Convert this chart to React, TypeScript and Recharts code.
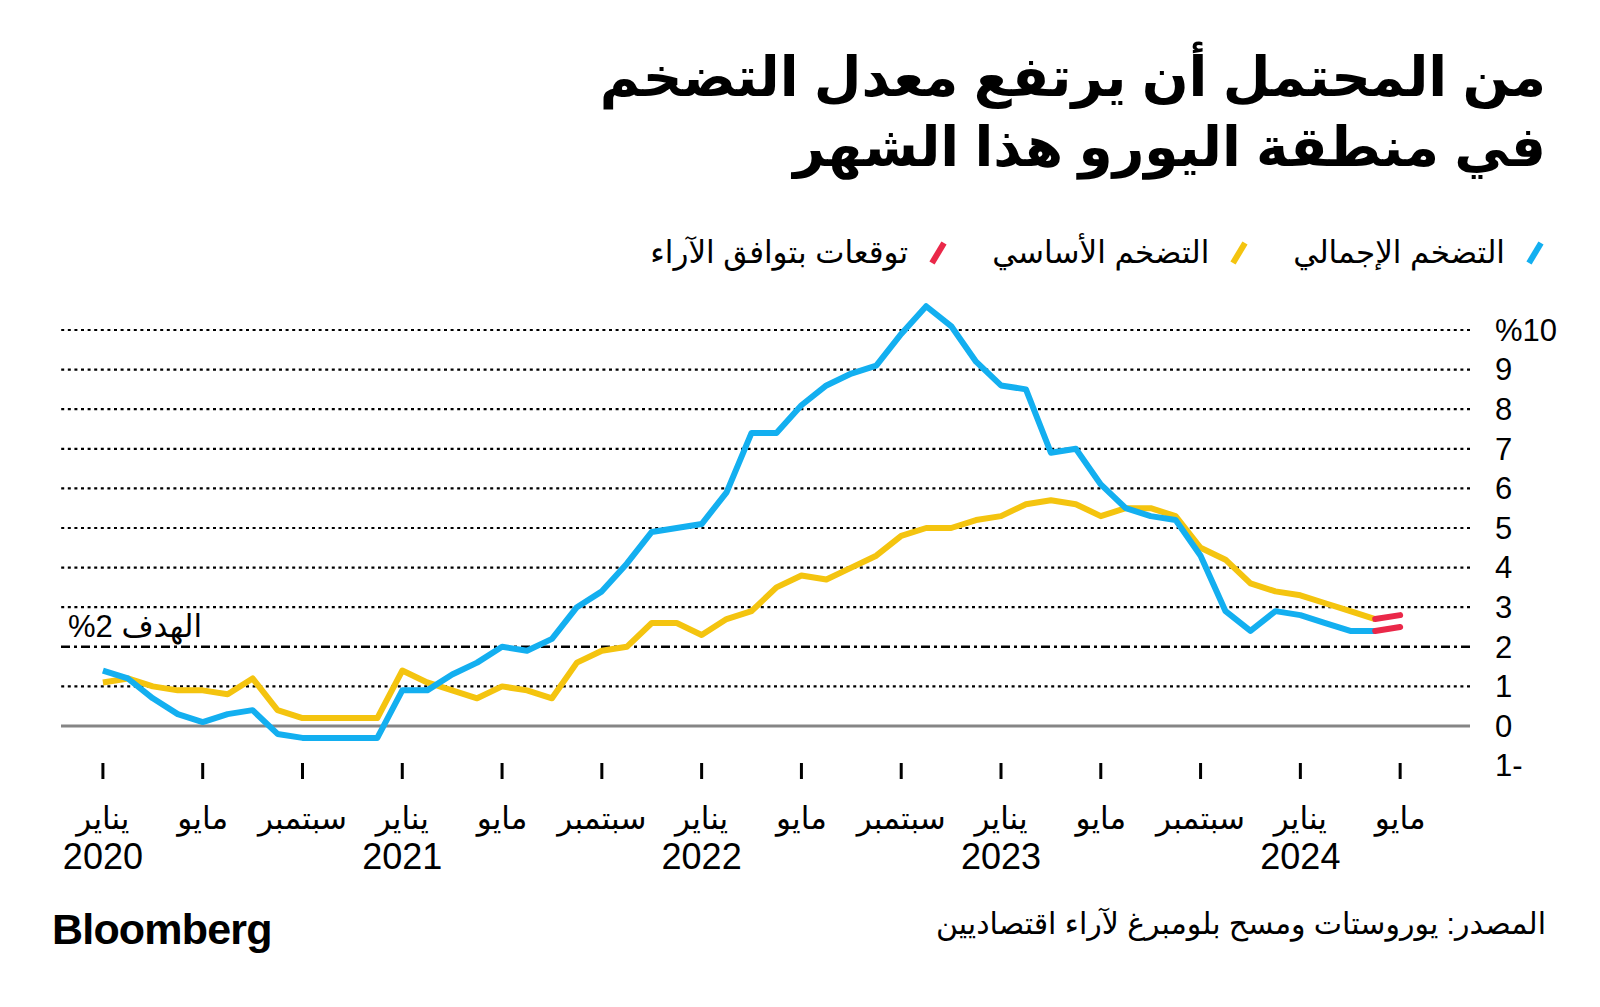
import React from 'react';
import { LineChart, Line, XAxis, YAxis, ReferenceLine } from 'recharts';

// months indexed from Jan 2020 (0) to May 2024 (52)
const headline = [
  1.4, 1.2, 0.7, 0.3, 0.1, 0.3, 0.4, -0.2, -0.3, -0.3, -0.3, -0.3,
  0.9, 0.9, 1.3, 1.6, 2.0, 1.9, 2.2, 3.0, 3.4, 4.1, 4.9, 5.0,
  5.1, 5.9, 7.4, 7.4, 8.1, 8.6, 8.9, 9.1, 9.9, 10.6, 10.1, 9.2,
  8.6, 8.5, 6.9, 7.0, 6.1, 5.5, 5.3, 5.2, 4.3, 2.9, 2.4, 2.9,
  2.8, 2.6, 2.4, 2.4,
];
const core = [
  1.1, 1.2, 1.0, 0.9, 0.9, 0.8, 1.2, 0.4, 0.2, 0.2, 0.2, 0.2,
  1.4, 1.1, 0.9, 0.7, 1.0, 0.9, 0.7, 1.6, 1.9, 2.0, 2.6, 2.6,
  2.3, 2.7, 2.9, 3.5, 3.8, 3.7, 4.0, 4.3, 4.8, 5.0, 5.0, 5.2,
  5.3, 5.6, 5.7, 5.6, 5.3, 5.5, 5.5, 5.3, 4.5, 4.2, 3.6, 3.4,
  3.3, 3.1, 2.9, 2.7,
];
// consensus forecasts for May 2024
const headlineConsensus = 2.5;
const coreConsensus = 2.8;

const monthNames = ['يناير', 'مايو', 'سبتمبر'];
const years = ['2020', '2021', '2022', '2023', '2024'];
const xTicks = [0, 4, 8, 12, 16, 20, 24, 28, 32, 36, 40, 44, 48, 52];
const yTicks = [-1, 0, 1, 2, 3, 4, 5, 6, 7, 8, 9, 10];
const target = 2;

const BLUE = '#13aff0';
const YELLOW = '#f4c40f';
const RED = '#ea2849';
const FONT = "'Liberation Sans', 'DejaVu Sans', sans-serif";

const last = headline.length - 1;
const data = Array.from({ length: headline.length + 1 }, (_, i) => ({
  i,
  headline: i <= last ? headline[i] : null,
  core: i <= last ? core[i] : null,
  headlineF: i === last ? headline[last] : i === last + 1 ? headlineConsensus : null,
  coreF: i === last ? core[last] : i === last + 1 ? coreConsensus : null,
}));

const XTick = (props: any) => {
  const { x, payload } = props;
  const idx = payload.value / 4;
  const name = monthNames[idx % 3];
  const year = idx % 3 === 0 ? years[idx / 3] : null;
  return (
    <g>
      <line x1={x} x2={x} y1={763} y2={779} stroke="#000" strokeWidth={3} />
      <text x={x} y={818} dy="0.35em" textAnchor="middle" fontSize={31} fill="#000" fontFamily={FONT}>
        {name}
      </text>
      {year && (
        <text x={x} y={856} dy="0.35em" textAnchor="middle" fontSize={36} fill="#000" fontFamily={FONT}>
          {year}
        </text>
      )}
    </g>
  );
};

const YTick = (props: any) => {
  const { y, payload } = props;
  const v = payload.value;
  const label = v === 10 ? '%10' : v < 0 ? `${-v}-` : String(v);
  return (
    <text x={1495} y={y} dy="0.35em" textAnchor="start" fontSize={31} fill="#000" fontFamily={FONT}>
      {label}
    </text>
  );
};

const TargetLabel = (props: any) => {
  const { viewBox } = props;
  return (
    <text x={viewBox.x + 7} y={viewBox.y - 21} dy="0.35em" textAnchor="start" fontSize={31} fill="#000" fontFamily={FONT}>
      %2 الهدف
    </text>
  );
};

const Marker = ({ color }: { color: string }) => (
  <svg width={20} height={26} style={{ display: 'block' }}>
    <line x1={4} y1={23} x2={16} y2={3} stroke={color} strokeWidth={6} />
  </svg>
);

const legend = [
  { label: 'التضخم الإجمالي', color: BLUE },
  { label: 'التضخم الأساسي', color: YELLOW },
  { label: 'توقعات بتوافق الآراء', color: RED },
];

export default function App() {
  return (
    <div style={{ position: 'absolute', left: 0, top: 0, width: 1600, height: 1007, background: '#fff', fontFamily: FONT, overflow: 'hidden' }}>
      <div
        style={{
          position: 'absolute', right: 54, top: 42, direction: 'rtl', textAlign: 'right',
          fontSize: 55, fontWeight: 700, lineHeight: '70px', color: '#000', fontFamily: FONT,
        }}
      >
        <div>من المحتمل أن يرتفع معدل التضخم</div>
        <div>في منطقة اليورو هذا الشهر</div>
      </div>

      <div style={{ position: 'absolute', right: 55, top: 234, direction: 'rtl', display: 'flex', alignItems: 'center' }}>
        {legend.map((l) => (
          <div key={l.label} style={{ display: 'flex', alignItems: 'center', marginLeft: 44 }}>
            <Marker color={l.color} />
            <span style={{ fontSize: 31, marginRight: 20, color: '#000' }}>{l.label}</span>
          </div>
        ))}
      </div>

      <div style={{ position: 'absolute', left: 0, top: 0 }}>
        <LineChart
          width={1600}
          height={1007}
          data={data}
          margin={{ top: 290.4, right: 10, bottom: 211.4, left: 61 }}
        >
          <XAxis
            dataKey="i"
            type="number"
            domain={[-1.68, 54.8]}
            ticks={xTicks}
            interval={0}
            axisLine={false}
            tickLine={false}
            height={30}
            tick={<XTick />}
            allowDataOverflow
          />
          <YAxis
            orientation="right"
            type="number"
            domain={[-1, 11]}
            ticks={yTicks}
            interval={0}
            axisLine={false}
            tickLine={false}
            width={120}
            tick={<YTick />}
            allowDataOverflow
          />
          {yTicks
            .filter((v) => v > 0 && v !== target)
            .map((v) => (
              <ReferenceLine key={v} y={v} stroke="#000" strokeWidth={2.2} strokeDasharray="3 3.6" />
            ))}
          <ReferenceLine y={0} stroke="#858585" strokeWidth={3} />
          <ReferenceLine y={target} stroke="#000" strokeWidth={2.6} strokeDasharray="9 4 3 4" label={<TargetLabel />} />
          <Line dataKey="core" stroke={YELLOW} strokeWidth={6} dot={false} isAnimationActive={false} strokeLinejoin="round" />
          <Line dataKey="headline" stroke={BLUE} strokeWidth={6} dot={false} isAnimationActive={false} strokeLinejoin="round" />
          <Line dataKey="headlineF" stroke={RED} strokeWidth={6} dot={false} isAnimationActive={false} strokeLinecap="round" />
          <Line dataKey="coreF" stroke={RED} strokeWidth={6} dot={false} isAnimationActive={false} strokeLinecap="round" />
        </LineChart>
      </div>

      <div style={{ position: 'absolute', left: 52, top: 905, fontSize: 43, fontWeight: 700, letterSpacing: -0.8, color: '#000', fontFamily: "'Liberation Sans', sans-serif" }}>
        Bloomberg
      </div>
      <div style={{ position: 'absolute', right: 54, top: 906, direction: 'rtl', fontSize: 30, color: '#000' }}>
        المصدر: يوروستات ومسح بلومبرغ لآراء اقتصاديين
      </div>
    </div>
  );
}
